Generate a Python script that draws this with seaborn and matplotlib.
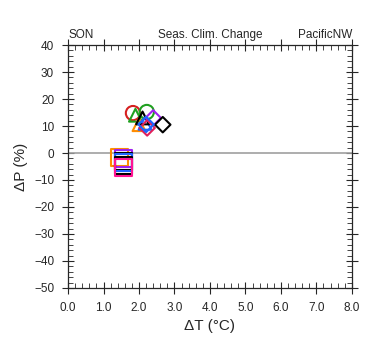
import pandas as pd
import matplotlib.pyplot as plt
import seaborn as sns
from matplotlib.ticker import MultipleLocator, FormatStrFormatter

# model points: warming (degC) vs precip change (%)
dT = [1.83, 2.22, 1.90, 2.00, 2.17, 2.10, 2.40, 2.67, 2.23, 2.20,
      1.45, 1.55, 1.56, 1.56, 1.56, 1.55]
dP = [14.8, 15.2, 14.0, 10.5, 11.0, 13.0, 13.0, 10.5, 9.3, 10.6,
      -1.5, -2.0, -3.0, -3.5, -4.6, -5.3]
shape = ['o', 'o', '^', '^', '^', '^', 'D', 'D', 'D', 'D',
         's', 's', 's', 's', 's', 's']
color = ['#d62020', '#20a020', '#20a020', '#ff8c00', '#1e64ff', 'black',
         '#a020f0', 'black', '#e0205a', '#1e64ff',
         '#ff8c00', '#a020f0', 'black', '#1e64ff', 'black', '#ff1493']

df = pd.DataFrame({'dT': dT, 'dP': dP, 'shape': shape, 'color': color})

sns.set_style('ticks')
plt.rcParams['font.family'] = ['Liberation Sans', 'DejaVu Sans']
fig = plt.figure(figsize=(3.8, 3.55), dpi=100)
ax = fig.add_axes([0.179, 0.189, 0.747, 0.684])

ax.axhline(0, color='#a0a0a0', lw=1.2, zorder=1)

sizes = {'o': 105, '^': 85, 'D': 62, 's': 150}
for _, r in df.iterrows():
    sns.scatterplot(x=[r['dT']], y=[r['dP']], marker=r['shape'], s=sizes[r['shape']],
                    facecolor='none', edgecolor=r['color'], linewidth=1.5, ax=ax,
                    zorder=3, legend=False)

ax.set_xlim(0, 8)
ax.set_ylim(-50, 40)
ax.xaxis.set_major_locator(MultipleLocator(1))
ax.xaxis.set_minor_locator(MultipleLocator(0.2))
ax.yaxis.set_major_locator(MultipleLocator(10))
ax.yaxis.set_minor_locator(MultipleLocator(2))
ax.xaxis.set_major_formatter(FormatStrFormatter('%.1f'))
ax.tick_params(which='major', direction='inout', length=8, width=0.8,
               top=True, right=True, labelsize=8.5, pad=6)
ax.tick_params(which='minor', direction='in', length=3.5, width=0.6,
               top=True, right=True)
for s in ax.spines.values():
    s.set_linewidth(0.9)

ax.set_xlabel('ΔT (°C)', fontsize=11, labelpad=4)
ax.set_ylabel('ΔP (%)', fontsize=11, labelpad=4)
ax.text(0.0, 1.015, 'SON', transform=ax.transAxes, fontsize=8.5, ha='left', va='bottom')
ax.text(0.5, 1.015, 'Seas. Clim. Change', transform=ax.transAxes, fontsize=8.5,
        ha='center', va='bottom')
ax.text(1.0, 1.015, 'PacificNW', transform=ax.transAxes, fontsize=8.5, ha='right',
        va='bottom')

fig.savefig('out.png', dpi=100)
